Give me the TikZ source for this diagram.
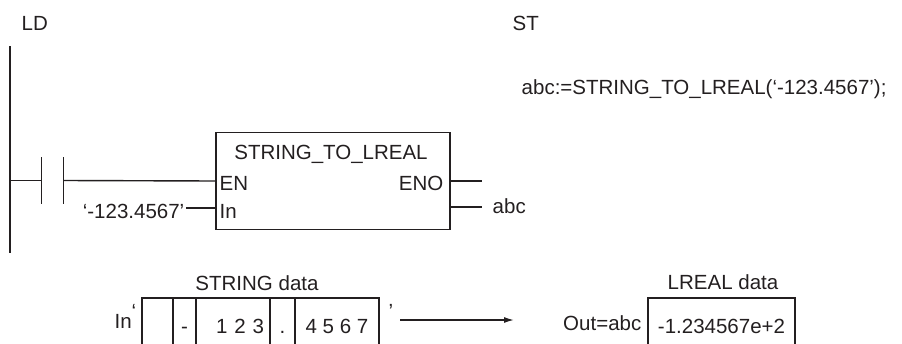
\documentclass[tikz,border=0pt]{standalone}
\usepackage{fontspec}
\setmainfont{Liberation Sans}
\usepackage{tikz}
\usepackage{xcolor}
\usetikzlibrary{arrows.meta,positioning}
\definecolor{inkgray}{RGB}{35,31,32}

\begin{document}
\begin{tikzpicture}[x=1pt, y=-1pt, >={Latex[length=10pt,width=6pt]}, line width=1.4pt, draw=inkgray, text=inkgray,
  every node/.style={font=\fontsize{20.5}{24}\selectfont, inner sep=1pt},
  cell/.style={draw, inner sep=4pt, outer sep=0pt, minimum height=56pt, text height=14.7pt, text depth=0pt, anchor=north}]
  \useasboundingbox (0,0) rectangle (902,343);
  \clip (0,0) rectangle (902,343);
  % headings
  \node[anchor=base west] (ldhead) at (20,30) {LD};
  \node[anchor=base west] (sthead) at (511,30) {ST};
  \node[anchor=base west] (stcode) at (520,94) {abc:=STRING\_TO\_LREAL(‘-123.4567’);};
  % ladder rung
  \coordinate (railtop) at (10,46);
  \coordinate (railbot) at (10,253);
  \draw[line width=2.2pt] (railtop) -- (railbot);
  \node[minimum width=21pt, minimum height=45pt, inner sep=0pt] (contact) at (52.5,180.5) {};
  \draw (contact.north west) -- (contact.south west) (contact.north east) -- (contact.south east);
  \node[draw, minimum width=234pt, minimum height=97pt, inner sep=0pt] (fb) at (333,181) {};
  \node[anchor=base] (fbname) at (331,159) {STRING\_TO\_LREAL};
  \node[anchor=base west] (en) at (218,190) {EN};
  \node[anchor=base east] (eno) at (445,190) {ENO};
  \node[anchor=base west] (inpin) at (218,218) {In};
  \node[anchor=base east] (inval) at (186,218) {‘-123.4567’};
  \node[anchor=base west] (outvar) at (491,213) {abc};
  \coordinate (pin) at (216,208);
  \coordinate (peno) at (450,181);
  \coordinate (pout) at (450,207);
  \draw (railtop |- contact) -- (contact.west);
  \draw (contact.east) -- (fb.west);
  \draw (inval.east |- pin) -- (pin);
  \draw (peno) -- ++(32,0);
  \draw (pout) -- ++(32,0);
  % string data
  \node[anchor=base] (strlbl) at (257,290) {STRING data};
  \node[cell, minimum width=31pt] (s1) at (157.5,298) {};
  \node[cell, minimum width=23pt, right=0pt of s1] (s2) {-};
  \node[cell, minimum width=74pt, text width=62pt, align=right, right=0pt of s2] (s3) {1 2 3};
  \node[cell, minimum width=25pt, right=0pt of s3] (s4) {.};
  \node[cell, minimum width=84pt, right=0pt of s4] (s5) {4 5 6 7};
  \node[anchor=base east] (inlbl) at (138,328) {In\raisebox{10pt}{‘}};
  \node[anchor=base] (sq) at (391,318) {’};
  \coordinate (arrfrom) at (400,320);
  \coordinate (arrto) at (514,320);
  \draw[->] (arrfrom) -- (arrto);
  % lreal data
  \node[anchor=base] (lrlbl) at (723,289) {LREAL data};
  \node[cell, minimum width=147pt] (lr) at (721.5,298) {-1.234567e+2};
  \node[anchor=base east] (outlbl) at (643,330) {Out=abc};
\end{tikzpicture}
\end{document}
